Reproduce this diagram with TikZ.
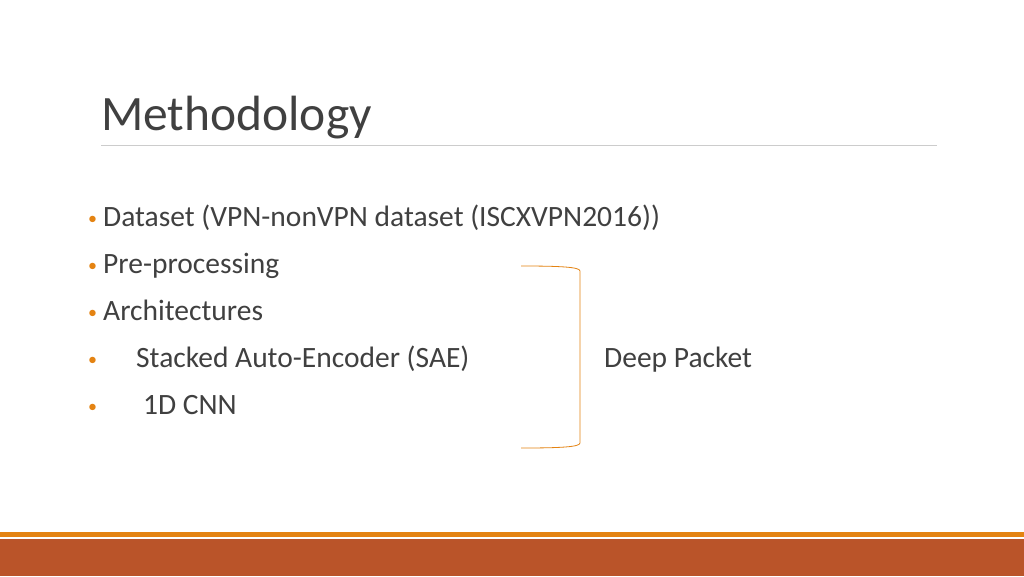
\documentclass[tikz,border=0pt]{standalone}
\usepackage{fontspec}
\setmainfont{Carlito}
\definecolor{txtgray}{HTML}{404040}
\definecolor{accent}{HTML}{E48312}
\definecolor{barred}{HTML}{BA5429}
\tikzset{every node/.style={anchor=base west,inner sep=0pt,text=txtgray},
  item/.style={font=\fontsize{29.5}{34}\selectfont},
  dot/.style={font=\fontsize{18}{22}\selectfont,text=accent}}
\begin{document}
\begin{tikzpicture}[x=1pt,y=-1pt]
  \useasboundingbox[fill=white] (0,0) rectangle (1024,576);
  \node[font=\fontsize{49.5}{56}\selectfont] (title) at (101,130) {Methodology};
  \draw[gray!40] (101,145) -- (937,145);
  % bullet list
  \node[dot] (b1) at (88,224) {\textbullet};
  \node[item] (dataset) at (103,226) {Dataset (VPN-nonVPN dataset (ISCXVPN2016))};
  \node[dot] (b2) at (88,271) {\textbullet};
  \node[item] (prep) at (103,273) {Pre-processing};
  \node[dot] (b3) at (88,318) {\textbullet};
  \node[item] (arch) at (103,320) {Architectures};
  \node[dot] (b4) at (88,365) {\textbullet};
  \node[item] (sae) at (136,367) {Stacked Auto-Encoder (SAE)};
  \node[dot] (b5) at (88,412) {\textbullet};
  \node[item] (cnn) at (143,414) {1D CNN};
  \node[item] (deep) at (604,367) {Deep Packet};
  % bracket
  \draw[accent,thick] (521,266) .. controls (560,266) and (580,267) .. (580,271)
    -- (580,443) .. controls (580,447) and (560,448) .. (521,448);
  % footer bars
  \fill[accent] (0,532) rectangle (1024,537);
  \fill[barred] (0,539) rectangle (1024,576);
\end{tikzpicture}
\end{document}
